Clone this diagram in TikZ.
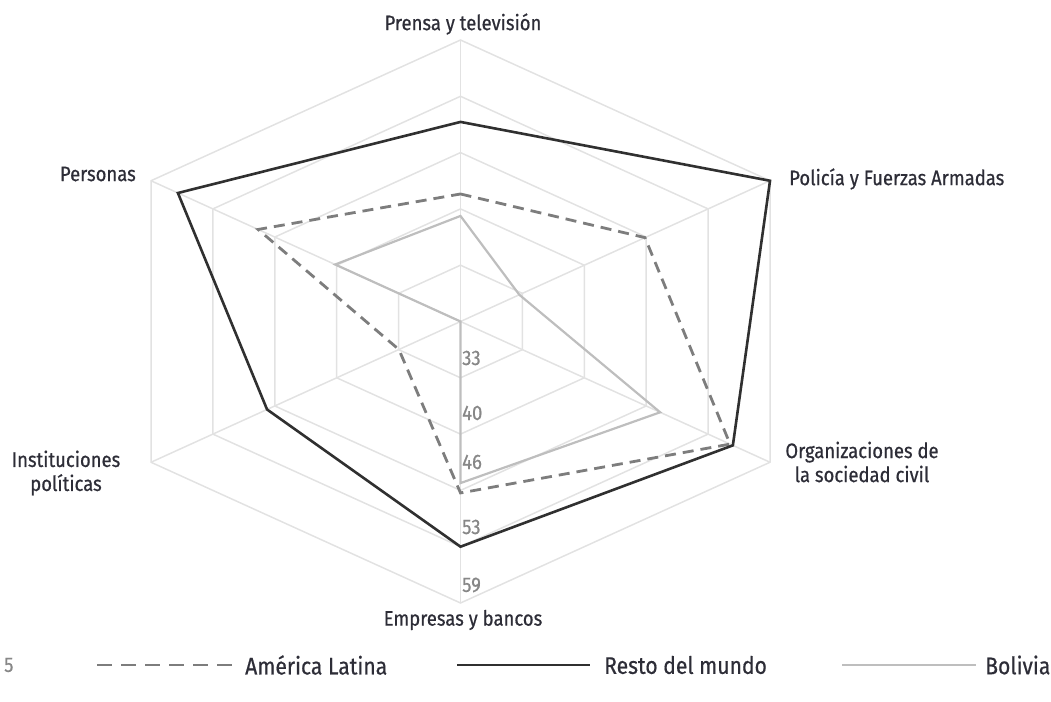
\documentclass[tikz,border=0pt]{standalone}
\usepackage{fontspec}
\setmainfont[FakeStretch=0.88, FakeBold=0.6]{Fira Sans}
\usetikzlibrary{calc}
\definecolor{gridgray}{RGB}{226,226,226}
\definecolor{labelink}{RGB}{45,45,55}
\definecolor{numgray}{RGB}{135,135,135}
\definecolor{latamgray}{RGB}{125,125,125}
\definecolor{restodark}{RGB}{48,48,48}
\definecolor{boliviagray}{RGB}{190,190,190}
\tikzset{
  gridline/.style={draw=gridgray, line width=1.5pt},
  axislabel/.style={text=labelink, font=\fontsize{21}{24}\selectfont, align=center, inner sep=0pt},
  legendlabel/.style={text=labelink, font=\fontsize{24}{27}\selectfont, anchor=west, inner sep=0pt},
  ticklabel/.style={text=numgray, font=\fontsize{21}{24}\selectfont, anchor=west, inner sep=0pt},
  latam/.style={draw=latamgray, line width=2.8pt, dash pattern=on 11pt off 7pt, line join=miter},
  resto/.style={draw=restodark, line width=2.6pt, line join=miter},
  bolivia/.style={draw=boliviagray, line width=2.2pt, line join=miter},
}
\begin{document}
\begin{tikzpicture}[x=1pt, y=-1pt]
\useasboundingbox (0,0) rectangle (1051,701);

% centre and outer vertices of the six axes
\coordinate (O)  at (460.5,321.5);
\coordinate (V1) at (460.5,40);
\coordinate (V2) at (770,180.75);
\coordinate (V3) at (770,462.25);
\coordinate (V4) at (460.5,603);
\coordinate (V5) at (151,462.25);
\coordinate (V6) at (151,180.75);

% concentric hexagons
\foreach \f in {0.2,0.4,0.6,0.8,1.0}{
  \draw[gridline] ($(O)!\f!(V1)$) -- ($(O)!\f!(V2)$) -- ($(O)!\f!(V3)$)
     -- ($(O)!\f!(V4)$) -- ($(O)!\f!(V5)$) -- ($(O)!\f!(V6)$) -- cycle;
}
% spokes
\foreach \v in {V1,V2,V3,V4,V5,V6}{
  \draw[gridline] (O) -- (\v);
}

% scale values on the lower axis
\node[ticklabel] (t33) at (462,358) {33};
\node[ticklabel] (t40) at (462,413) {40};
\node[ticklabel] (t46) at (462,462) {46};
\node[ticklabel] (t53) at (462,527) {53};
\node[ticklabel] (t59) at (462,585) {59};

% Bolivia
\coordinate (b1) at ($(O)!0.375!(V1)$);
\coordinate (b2) at ($(O)!0.19!(V2)$);
\coordinate (b3) at ($(O)!0.645!(V3)$);
\coordinate (b4) at ($(O)!0.574!(V4)$);
\coordinate (b5) at ($(O)!0.0!(V5)$);
\coordinate (b6) at ($(O)!0.405!(V6)$);
\draw[bolivia] (b1) -- (b2) -- (b3) -- (b4) -- (b5) -- (b6) -- cycle;

% America Latina
\coordinate (a1) at ($(O)!0.453!(V1)$);
\coordinate (a2) at ($(O)!0.596!(V2)$);
\coordinate (a3) at ($(O)!0.871!(V3)$);
\coordinate (a4) at ($(O)!0.609!(V4)$);
\coordinate (a5) at ($(O)!0.199!(V5)$);
\coordinate (a6) at ($(O)!0.654!(V6)$);
\draw[latam] (a1) -- (a2) -- (a3) -- (a4) -- (a5) -- (a6) -- cycle;

% Resto del mundo
\coordinate (r1) at ($(O)!0.709!(V1)$);
\coordinate (r2) at ($(O)!1.0!(V2)$);
\coordinate (r3) at ($(O)!0.88!(V3)$);
\coordinate (r4) at ($(O)!0.80!(V4)$);
\coordinate (r5) at ($(O)!0.625!(V5)$);
\coordinate (r6) at ($(O)!0.913!(V6)$);
\draw[resto] (r1) -- (r2) -- (r3) -- (r4) -- (r5) -- (r6) -- cycle;

% axis names
\node[axislabel] (n1) at (463,24) {Prensa y televisión};
\node[axislabel, anchor=west] (n2) at (789,179) {Policía y Fuerzas Armadas};
\node[axislabel] (n3) at (862,462) {Organizaciones de\\la sociedad civil};
\node[axislabel] (n4) at (463,620) {Empresas y bancos};
\node[axislabel] (n5) at (66,473) {Instituciones\\políticas};
\node[axislabel, anchor=east] (n6) at (136,174) {Personas};

% legend
\node[ticklabel] (yr) at (4,665) {5};
\coordinate (la) at (97,665);  \coordinate (lb) at (232,665);
\draw[latam, dash pattern=on 15pt off 9pt] (la) -- (lb);
\node[legendlabel] (ll) at (245,665) {América Latina};
\coordinate (ra) at (457,665); \coordinate (rb) at (590,665);
\draw[resto] (ra) -- (rb);
\node[legendlabel] (rl) at (604,665) {Resto del mundo};
\coordinate (ba) at (842,665); \coordinate (bb) at (976,665);
\draw[bolivia] (ba) -- (bb);
\node[legendlabel] (bl) at (985,665) {Bolivia};
\end{tikzpicture}
\end{document}
